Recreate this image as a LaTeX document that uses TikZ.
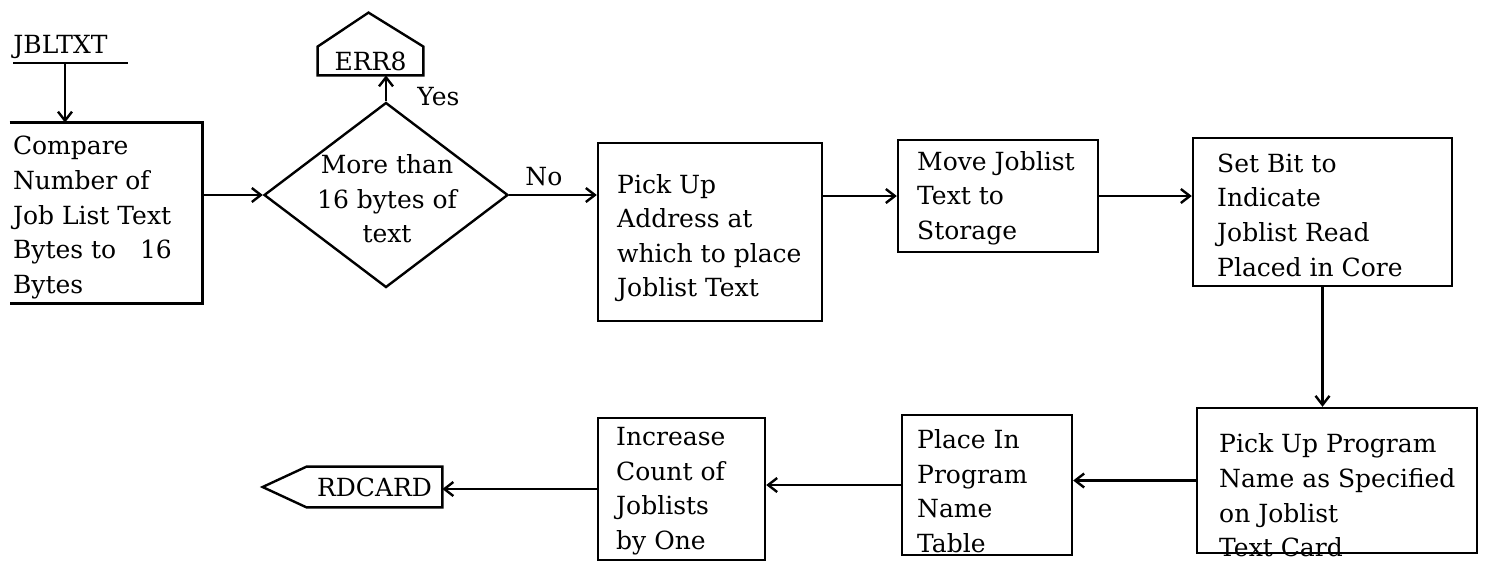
\documentclass[tikz,border=0pt]{standalone}
\usepackage{fontspec}
\setmainfont{DejaVu Serif}
\usetikzlibrary{arrows.meta,shapes.geometric,calc}
\begin{document}
\begin{tikzpicture}[x=0.5pt,y=-0.5pt,
  ln/.style={line width=1.2pt},
  arr/.style={ln,-{Straight Barb[length=4.5pt,width=7pt,line width=1.2pt]}},
  box/.style={ln,draw,rectangle,inner sep=0pt},
  txt/.style={inner sep=0pt,align=left,font=\fontsize{12.5}{17.3}\selectfont},
  lbl/.style={inner sep=0pt,font=\fontsize{12.5}{15}\selectfont}]
\useasboundingbox (0,0) rectangle (1486,574);
% entry
\node[lbl,anchor=base west] (jb) at (13,53) {JBLTXT};
\coordinate (ulL) at (13,63);
\coordinate (ulR) at (128,63);
\coordinate (jbu) at (65,63);
\draw[ln] (ulL) -- (ulR);
% box 1 (left side open)
\node[inner sep=0pt,minimum width=96pt,minimum height=90pt] (b1) at (106,213) {};
\draw[ln] (b1.north west) -- (b1.north east) -- (b1.south east) -- (b1.south west);
\node[txt,anchor=west] (t1) at ($(b1.west)+(3,4.5)$) {Compare\\Number of\\Job List Text\\Bytes to\ \ \ 16\\Bytes};
% decision
\node[ln,draw,diamond,inner sep=0pt,minimum width=122pt,minimum height=92.5pt] (d) at (386,195) {};
\node[txt,align=center] (dt) at ($(d.center)+(1,4)$) {More than\\16 bytes of\\text};
% ERR8
\node[lbl,minimum width=52.5pt,minimum height=14pt] (err) at (370.5,61) {ERR8};
\draw[ln] (err.north west) -- ($(err.north)+(-2,-34)$) -- (err.north east) -- (err.south east) -- (err.south west) -- cycle;
\node[lbl,anchor=west] (yes) at (417,97) {Yes};
\node[lbl,anchor=west] (no) at (525,177) {No};
% boxes
\node[box,minimum width=112pt,minimum height=89pt] (b2) at (710,232) {};
\node[txt,anchor=west] (t2) at ($(b2.west)+(20,6)$) {Pick Up\\Address at\\which to place\\Joblist Text};
\node[box,minimum width=100pt,minimum height=56pt] (b3) at (998,196) {};
\node[txt,anchor=west] (t3) at ($(b3.west)+(20,2)$) {Move Joblist\\Text to\\Storage};
\node[box,minimum width=129.5pt,minimum height=74pt] (b4) at (1322.5,212) {};
\node[txt,anchor=west] (t4) at ($(b4.west)+(25,3)$) {Set Bit to\\Indicate\\Joblist Read\\Placed in Core};
\node[box,minimum width=140pt,minimum height=72.5pt] (b5) at (1337,480.5) {};
\node[txt,anchor=west] (t5) at ($(b5.west)+(23,15)$) {Pick Up Program\\Name as Specified\\on Joblist\\Text Card};
\node[box,minimum width=85pt,minimum height=70pt] (b6) at (987,485) {};
\node[txt,anchor=west] (t6) at ($(b6.west)+(16,6)$) {Place In\\Program\\Name\\Table};
\node[box,minimum width=83.5pt,minimum height=71pt] (b7) at (681.5,489) {};
\node[txt,anchor=west] (t7) at ($(b7.west)+(19,2)$) {Increase\\Count of\\Joblists\\by One};
% RDCARD
\node[lbl,minimum width=67.5pt,minimum height=20pt] (rd) at (374.5,487) {RDCARD};
\draw[ln] (rd.north east) -- (rd.north west) -- ($(rd.west)+(-44,0)$) -- (rd.south west) -- (rd.south east) -- cycle;
% connectors
\draw[arr] (jbu) -- (jbu |- b1.north);
\draw[arr] (b1.east |- d.west) -- (d.west);
\draw[arr] (d.north) -- (d.north |- err.south);
\draw[arr] (d.east) -- (d.east -| b2.west);
\draw[arr] (b3.west -| b2.east) -- (b3.west);
\draw[arr] (b3.east) -- (b3.east -| b4.west);
\draw[arr] (b4.south) -- (b4.south |- b5.north);
\draw[arr] (b5.west) -- (b5.west -| b6.east);
\draw[arr] (b6.west) -- (b6.west -| b7.east);
\draw[arr] (b7.west) -- (b7.west -| rd.east);
\end{tikzpicture}
\end{document}
